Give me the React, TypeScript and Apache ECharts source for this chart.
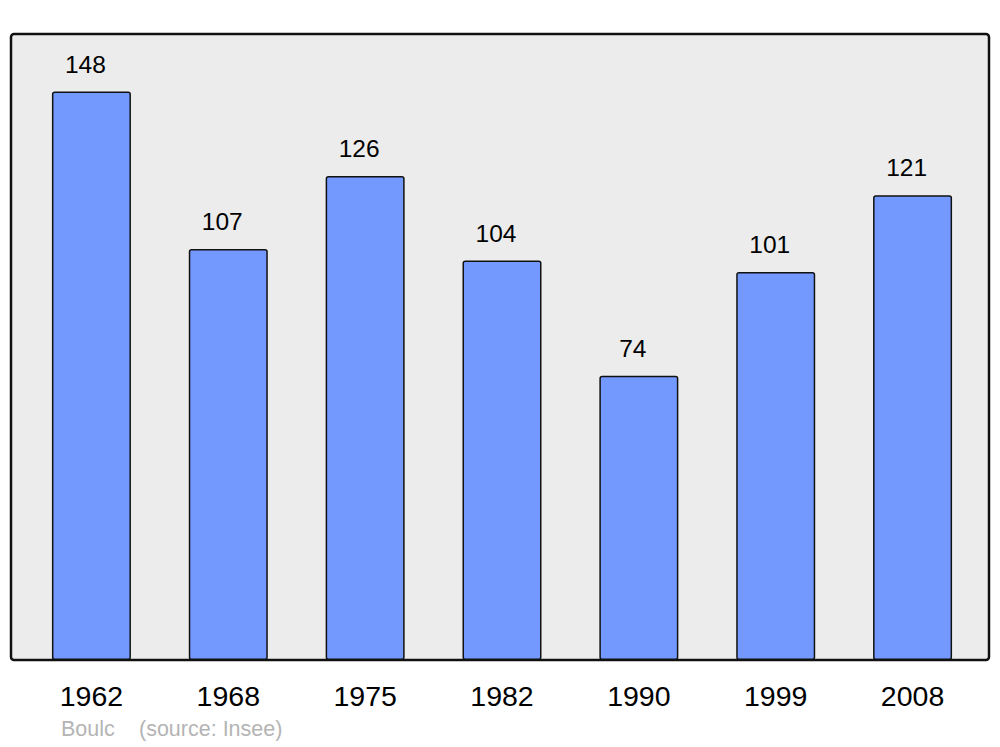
import React, { useEffect, useRef } from "react";
import * as echarts from "echarts";

const years = ["1962", "1968", "1975", "1982", "1990", "1999", "2008"];
const population = [148, 107, 126, 104, 74, 101, 121];
const footerAuthor = "Boulc";
const footerSource = "(source: Insee)";

export default function App() {
  const ref = useRef<HTMLDivElement>(null);
  useEffect(() => {
    if (!ref.current) return;
    const chart = echarts.init(ref.current, null, { renderer: "svg" });
    chart.setOption({
      animation: false,
      textStyle: { fontFamily: "Liberation Sans" },
      graphic: [
        {
          type: "rect",
          z: -10,
          shape: { x: 11, y: 34, width: 978, height: 626, r: 3 },
          style: { fill: "#ececec", stroke: "#111", lineWidth: 2.5 },
        },
        {
          type: "text",
          x: 61,
          y: 718,
          style: { text: footerAuthor, fill: "#b4b4b4", fontSize: 21.5, fontFamily: "Liberation Sans" },
        },
        {
          type: "text",
          x: 139,
          y: 718,
          style: { text: footerSource, fill: "#b4b4b4", fontSize: 21.5, fontFamily: "Liberation Sans" },
        },
      ],
      grid: { left: 23, right: 19, top: 34, bottom: 87, containLabel: false },
      xAxis: {
        type: "category",
        data: years,
        axisLine: { show: false },
        axisTick: { show: false },
        axisLabel: { color: "#000", fontSize: 28.5, margin: 21, fontFamily: "Liberation Sans" },
      },
      yAxis: {
        type: "value",
        min: 0,
        max: 163,
        show: false,
        splitLine: { show: false },
      },
      series: [
        {
          type: "bar",
          data: population,
          barWidth: 79,
          itemStyle: {
            color: "#7399ff",
            borderColor: "#111",
            borderWidth: 1.5,
            borderRadius: 2,
          },
          label: {
            show: true,
            position: "top",
            distance: 15,
            offset: [-6, 0],
            color: "#000",
            fontSize: 24.5,
            fontFamily: "Liberation Sans",
          },
        },
      ],
    });
    return () => chart.dispose();
  }, []);
  return <div ref={ref} style={{ width: 1000, height: 747, position: "absolute", left: 0, top: 0, background: "#fff" }} />;
}
